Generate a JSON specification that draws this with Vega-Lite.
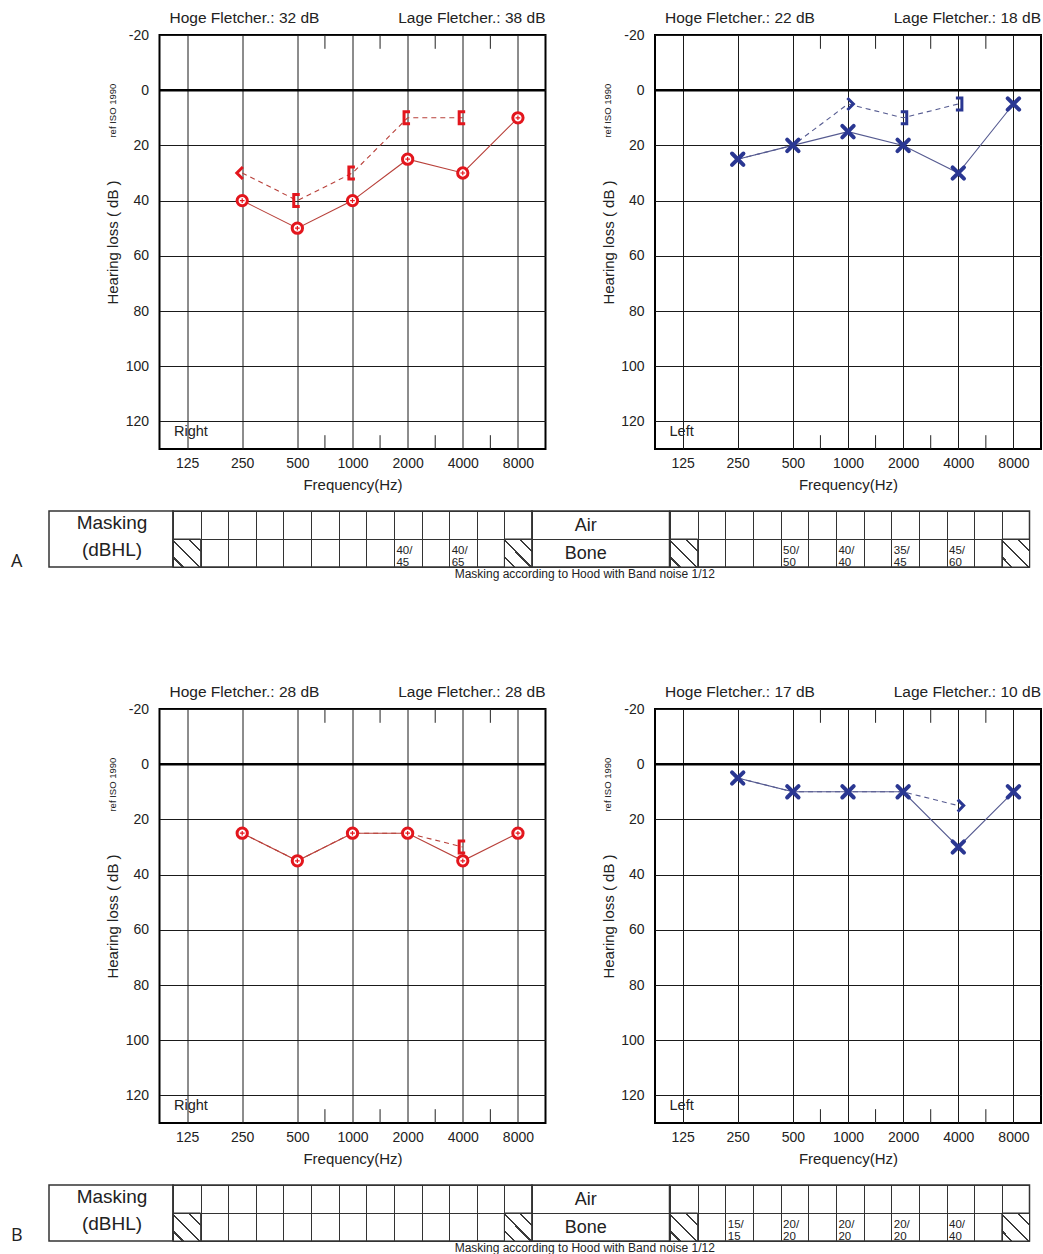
{
"$schema":"https://vega.github.io/schema/vega-lite/v6.json",
"background":"#ffffff",
"autosize":{"type":"pad"},
"padding":{"left":10,"top":10,"right":0,"bottom":0},
"config":{
 "font":"Liberation Sans",
 "axis":{"labelFontSize":14,"labelColor":"#222222","titleFontSize":15,"titleFontWeight":"normal","titleColor":"#222222","labelFlush":false,"labelOverlap":false,"ticks":false,"domain":false,"gridColor":"#1a1a1a","gridWidth":1,"gridOpacity":1},
 "axisX":{"labelPadding":7,"titlePadding":7},
 "axisY":{"labelPadding":11,"titlePadding":4.5},
 "text":{"color":"#222222"}
},
"datasets":{
 "ticks":[{"f":707.1},{"f":1414.2},{"f":2828.4},{"f":5656.9}],
 "AR":[{"s":"air","f":250,"db":40},{"s":"air","f":500,"db":50},{"s":"air","f":1000,"db":40},{"s":"air","f":2000,"db":25},{"s":"air","f":4000,"db":30},{"s":"air","f":8000,"db":10},{"s":"bone","f":250,"db":30,"sym":"lt"},{"s":"bone","f":500,"db":40,"sym":"lbr"},{"s":"bone","f":1000,"db":30,"sym":"lbr"},{"s":"bone","f":2000,"db":10,"sym":"lbr"},{"s":"bone","f":4000,"db":10,"sym":"lbr"}],
 "AL":[{"s":"air","f":250,"db":25},{"s":"air","f":500,"db":20},{"s":"air","f":1000,"db":15},{"s":"air","f":2000,"db":20},{"s":"air","f":4000,"db":30},{"s":"air","f":8000,"db":5},{"s":"bone","f":250,"db":25},{"s":"bone","f":500,"db":20},{"s":"bone","f":1000,"db":5,"sym":"gt"},{"s":"bone","f":2000,"db":10,"sym":"rbr"},{"s":"bone","f":4000,"db":5,"sym":"rbr"}],
 "BR":[{"s":"air","f":250,"db":25},{"s":"air","f":500,"db":35},{"s":"air","f":1000,"db":25},{"s":"air","f":2000,"db":25},{"s":"air","f":4000,"db":35},{"s":"air","f":8000,"db":25},{"s":"bone","f":250,"db":25},{"s":"bone","f":500,"db":35},{"s":"bone","f":1000,"db":25},{"s":"bone","f":2000,"db":25},{"s":"bone","f":4000,"db":30,"sym":"lbr"}],
 "BL":[{"s":"air","f":250,"db":5},{"s":"air","f":500,"db":10},{"s":"air","f":1000,"db":10},{"s":"air","f":2000,"db":10},{"s":"air","f":4000,"db":30},{"s":"air","f":8000,"db":10},{"s":"bone","f":250,"db":5},{"s":"bone","f":500,"db":10},{"s":"bone","f":1000,"db":10},{"s":"bone","f":2000,"db":10},{"s":"bone","f":4000,"db":15,"sym":"gt"}],
 "TAR":[{"col":1,"row":"Bone","h":true},{"col":13,"row":"Bone","h":true},{"col":9,"row":"Bone","v":"40/\n45"},{"col":11,"row":"Bone","v":"40/\n65"}],
 "TAL":[{"col":1,"row":"Bone","h":true},{"col":13,"row":"Bone","h":true},{"col":5,"row":"Bone","v":"50/\n50"},{"col":7,"row":"Bone","v":"40/\n40"},{"col":9,"row":"Bone","v":"35/\n45"},{"col":11,"row":"Bone","v":"45/\n60"}],
 "TBR":[{"col":1,"row":"Bone","h":true},{"col":13,"row":"Bone","h":true}],
 "TBL":[{"col":1,"row":"Bone","h":true},{"col":13,"row":"Bone","h":true},{"col":3,"row":"Bone","v":"15/\n15"},{"col":5,"row":"Bone","v":"20/\n20"},{"col":7,"row":"Bone","v":"20/\n20"},{"col":9,"row":"Bone","v":"20/\n20"},{"col":11,"row":"Bone","v":"40/\n40"}]
},
"spacing":103,
"vconcat":[
{"spacing":17,"vconcat":[
 {"spacing":109.5,"bounds":"flush","hconcat":[
  {"width":1,"height":414,"view":{"stroke":null},"data":{"values":[{"k":1}]},"mark":{"type":"point","opacity":0}},
  {"width":386,"height":414,"view":{"stroke":"#000000","strokeWidth":2},
   "layer":[
    {"data":{"name":"ticks"},"mark":{"type":"rule","color":"#222222","strokeWidth":1},"encoding":{"x":{"field":"f","type":"quantitative"},"y":{"datum":-20},"y2":{"datum":-15}}},
    {"data":{"name":"ticks"},"mark":{"type":"rule","color":"#222222","strokeWidth":1},"encoding":{"x":{"field":"f","type":"quantitative"},"y":{"datum":125},"y2":{"datum":130}}},
    {"data":{"values":[{"z":0}]},"mark":{"type":"rule","color":"#000000","strokeWidth":2.5},"encoding":{"y":{"field":"z","type":"quantitative"}}},
    {"data":{"name":"AR"},"transform":[{"filter":"datum.s == 'air'"}],"mark":{"type":"line","color":"#b8403a","strokeWidth":1.1},
     "encoding":{"x":{"field":"f","type":"quantitative","scale":{"type":"log","base":2,"domain":[88.388,11313.708],"nice":false},"axis":{"values":[125,250,500,1000,2000,4000,8000],"labelExpr":"'' + datum.value","grid":true,"title":"Frequency(Hz)"}},
                 "y":{"field":"db","type":"quantitative","scale":{"domain":[-20,130],"reverse":true,"nice":false,"zero":false},"axis":{"values":[-20,-10,0,10,20,30,40,50,60,70,80,90,100,110,120,130],"labelExpr":"datum.value % 20 == 0 && datum.value <= 120 ? '' + datum.value : ''","grid":true,"title":"Hearing loss ( dB )"}}}},
    {"data":{"name":"AR"},"transform":[{"filter":"datum.s == 'bone'"}],"mark":{"type":"line","color":"#b8403a","strokeWidth":1.1,"strokeDash":[5,4]},"encoding":{"x":{"field":"f","type":"quantitative"},"y":{"field":"db","type":"quantitative"}}},
    {"data":{"name":"AR"},"transform":[{"filter":"datum.s == 'bone' && datum.sym"}],"mark":{"type":"point","size":144,"filled":false,"stroke":"#e3161d","strokeWidth":3,"opacity":1},"encoding":{"x":{"field":"f","type":"quantitative"},"y":{"field":"db","type":"quantitative"},"shape":{"field":"sym","type":"nominal","scale":{"domain":["lt","gt","lbr","rbr"],"range":["M0.1,-1L-0.9,0L0.1,1","M-0.1,-1L0.9,0L-0.1,1","M0.4,-1L-0.6,-1L-0.6,1L0.4,1","M-0.4,-1L0.6,-1L0.6,1L-0.4,1"]},"legend":null}}},
    {"data":{"name":"AR"},"transform":[{"filter":"datum.s == 'air'"}],"mark":{"type":"point","shape":"circle","size":106,"filled":true,"fill":"#ffffff","stroke":"#e3161d","strokeWidth":3,"opacity":1},"encoding":{"x":{"field":"f","type":"quantitative"},"y":{"field":"db","type":"quantitative"}}},
    {"data":{"name":"AR"},"transform":[{"filter":"datum.s == 'air'"}],"mark":{"type":"point","shape":"M-0.45,0L0.45,0M0,-0.45L0,0.45","size":106,"filled":false,"stroke":"#e3161d","strokeWidth":1.2,"opacity":1},"encoding":{"x":{"field":"f","type":"quantitative"},"y":{"field":"db","type":"quantitative"}}},
    {"data":{"values":[{"t":"Hoge Fletcher.: 32 dB"}]},"mark":{"type":"text","align":"left","baseline":"alphabetic","fontSize":15.5,"dx":10,"dy":-12},"encoding":{"x":{"datum":88.388},"y":{"datum":-20},"text":{"field":"t"}}},
    {"data":{"values":[{"t":"Lage Fletcher.: 38 dB"}]},"mark":{"type":"text","align":"right","baseline":"alphabetic","fontSize":15.5,"dx":0,"dy":-12},"encoding":{"x":{"datum":11313.708},"y":{"datum":-20},"text":{"field":"t"}}},
    {"data":{"values":[{"t":"Right"}]},"mark":{"type":"text","align":"left","baseline":"middle","fontSize":14.5,"dx":14.5},"encoding":{"x":{"datum":88.388},"y":{"datum":124},"text":{"field":"t"}}},
    {"data":{"values":[{"t":"ref ISO 1990"}]},"mark":{"type":"text","angle":270,"align":"center","baseline":"middle","fontSize":9.5,"dy":-47},"encoding":{"x":{"datum":88.388},"y":{"datum":7.4},"text":{"field":"t"}}}
   ]},
  {"width":386,"height":414,"view":{"stroke":"#000000","strokeWidth":2},
   "layer":[
    {"data":{"name":"ticks"},"mark":{"type":"rule","color":"#222222","strokeWidth":1},"encoding":{"x":{"field":"f","type":"quantitative"},"y":{"datum":-20},"y2":{"datum":-15}}},
    {"data":{"name":"ticks"},"mark":{"type":"rule","color":"#222222","strokeWidth":1},"encoding":{"x":{"field":"f","type":"quantitative"},"y":{"datum":125},"y2":{"datum":130}}},
    {"data":{"values":[{"z":0}]},"mark":{"type":"rule","color":"#000000","strokeWidth":2.5},"encoding":{"y":{"field":"z","type":"quantitative"}}},
    {"data":{"name":"AL"},"transform":[{"filter":"datum.s == 'air'"}],"mark":{"type":"line","color":"#555a90","strokeWidth":1.1},
     "encoding":{"x":{"field":"f","type":"quantitative","scale":{"type":"log","base":2,"domain":[88.388,11313.708],"nice":false},"axis":{"values":[125,250,500,1000,2000,4000,8000],"labelExpr":"'' + datum.value","grid":true,"title":"Frequency(Hz)"}},
                 "y":{"field":"db","type":"quantitative","scale":{"domain":[-20,130],"reverse":true,"nice":false,"zero":false},"axis":{"values":[-20,-10,0,10,20,30,40,50,60,70,80,90,100,110,120,130],"labelExpr":"datum.value % 20 == 0 && datum.value <= 120 ? '' + datum.value : ''","grid":true,"title":"Hearing loss ( dB )"}}}},
    {"data":{"name":"AL"},"transform":[{"filter":"datum.s == 'bone'"}],"mark":{"type":"line","color":"#555a90","strokeWidth":1.1,"strokeDash":[5,4]},"encoding":{"x":{"field":"f","type":"quantitative"},"y":{"field":"db","type":"quantitative"}}},
    {"data":{"name":"AL"},"transform":[{"filter":"datum.s == 'bone' && datum.sym"}],"mark":{"type":"point","size":144,"filled":false,"stroke":"#2a3792","strokeWidth":3,"opacity":1},"encoding":{"x":{"field":"f","type":"quantitative"},"y":{"field":"db","type":"quantitative"},"shape":{"field":"sym","type":"nominal","scale":{"domain":["lt","gt","lbr","rbr"],"range":["M0.1,-1L-0.9,0L0.1,1","M-0.1,-1L0.9,0L-0.1,1","M0.4,-1L-0.6,-1L-0.6,1L0.4,1","M-0.4,-1L0.6,-1L0.6,1L-0.4,1"]},"legend":null}}},
    {"data":{"name":"AL"},"transform":[{"filter":"datum.s == 'air'"}],"mark":{"type":"point","shape":"M-1,-1L1,1M1,-1L-1,1","size":130,"filled":false,"stroke":"#2a3792","strokeWidth":4,"strokeCap":"round","opacity":1},"encoding":{"x":{"field":"f","type":"quantitative"},"y":{"field":"db","type":"quantitative"}}},
    {"data":{"values":[{"t":"Hoge Fletcher.: 22 dB"}]},"mark":{"type":"text","align":"left","baseline":"alphabetic","fontSize":15.5,"dx":10,"dy":-12},"encoding":{"x":{"datum":88.388},"y":{"datum":-20},"text":{"field":"t"}}},
    {"data":{"values":[{"t":"Lage Fletcher.: 18 dB"}]},"mark":{"type":"text","align":"right","baseline":"alphabetic","fontSize":15.5,"dx":0,"dy":-12},"encoding":{"x":{"datum":11313.708},"y":{"datum":-20},"text":{"field":"t"}}},
    {"data":{"values":[{"t":"Left"}]},"mark":{"type":"text","align":"left","baseline":"middle","fontSize":14.5,"dx":14.5},"encoding":{"x":{"datum":88.388},"y":{"datum":124},"text":{"field":"t"}}},
    {"data":{"values":[{"t":"ref ISO 1990"}]},"mark":{"type":"text","angle":270,"align":"center","baseline":"middle","fontSize":9.5,"dy":-47},"encoding":{"x":{"datum":88.388},"y":{"datum":7.4},"text":{"field":"t"}}}
   ]}
 ]},
 {"spacing":0,"bounds":"flush","hconcat":[
  {"width":124,"height":56,"view":{"stroke":"#333333","strokeWidth":1.5},
   "layer":[
    {"data":{"values":[{"t":"Masking\n(dBHL)"}]},"mark":{"type":"text","fontSize":19,"align":"center","baseline":"alphabetic","dx":1,"dy":-10,"lineBreak":"\n","lineHeight":27},"encoding":{"text":{"field":"t"}}},
    {"data":{"values":[{"t":"A"}]},"mark":{"type":"text","font":"Open Sans","fontSize":18,"align":"center","baseline":"alphabetic","dx":-94.3,"dy":28.4},"encoding":{"text":{"field":"t"}}}
   ]},
  {"width":359,"height":56,"view":{"stroke":"#333333","strokeWidth":1.5},
   "data":{"name":"TAR"},
   "encoding":{"x":{"field":"col","type":"ordinal","scale":{"domain":[1,2,3,4,5,6,7,8,9,10,11,12,13],"paddingInner":0,"paddingOuter":0},"axis":{"grid":true,"tickBand":"extent","labels":false,"ticks":false,"domain":false,"title":null,"gridColor":"#333333","gridWidth":1}},
               "y":{"field":"row","type":"ordinal","scale":{"domain":["Air","Bone"],"paddingInner":0,"paddingOuter":0},"axis":{"grid":true,"tickBand":"extent","labels":false,"ticks":false,"domain":false,"title":null,"gridColor":"#333333","gridWidth":1}}},
   "layer":[
    {"transform":[{"filter":"datum.h"}],"mark":{"type":"rect","stroke":"#333333","strokeWidth":1,"fill":{"gradient":"linear","x1":1,"y1":0,"x2":0,"y2":1,"stops":[{"offset":0,"color":"#ffffff"},{"offset":0.2,"color":"#ffffff"},{"offset":0.2,"color":"#3a3a3a"},{"offset":0.24,"color":"#3a3a3a"},{"offset":0.24,"color":"#ffffff"},{"offset":0.5,"color":"#ffffff"},{"offset":0.5,"color":"#3a3a3a"},{"offset":0.54,"color":"#3a3a3a"},{"offset":0.54,"color":"#ffffff"},{"offset":0.8,"color":"#ffffff"},{"offset":0.8,"color":"#3a3a3a"},{"offset":0.84,"color":"#3a3a3a"},{"offset":0.84,"color":"#ffffff"},{"offset":1,"color":"#ffffff"}]}}},
    {"transform":[{"filter":"datum.v"}],"mark":{"type":"text","align":"left","baseline":"alphabetic","fontSize":11.5,"lineBreak":"\n","lineHeight":11.5,"dx":2.5,"dy":1},"encoding":{"x":{"field":"col","type":"ordinal","bandPosition":0},"text":{"field":"v"}}}
   ]},
  {"width":137.5,"height":56,"view":{"stroke":"#333333","strokeWidth":1.5},
   "layer":[
    {"data":{"values":[{"row":"Air"},{"row":"Bone"}]},"mark":{"type":"text","fontSize":18,"align":"center","baseline":"alphabetic","dx":-15,"dy":6},
     "encoding":{"y":{"field":"row","type":"ordinal","scale":{"domain":["Air","Bone"],"paddingInner":0,"paddingOuter":0},"axis":{"grid":true,"tickBand":"extent","labels":false,"ticks":false,"domain":false,"title":null,"gridColor":"#333333","gridWidth":1}},"text":{"field":"row"}}},
    {"data":{"values":[{"t":"Masking according to Hood with Band noise 1/12"}]},"mark":{"type":"text","fontSize":12,"align":"center","baseline":"middle","dx":-16,"dy":35},"encoding":{"text":{"field":"t"}}}
   ]},
  {"width":359.5,"height":56,"view":{"stroke":"#333333","strokeWidth":1.5},
   "data":{"name":"TAL"},
   "encoding":{"x":{"field":"col","type":"ordinal","scale":{"domain":[1,2,3,4,5,6,7,8,9,10,11,12,13],"paddingInner":0,"paddingOuter":0},"axis":{"grid":true,"tickBand":"extent","labels":false,"ticks":false,"domain":false,"title":null,"gridColor":"#333333","gridWidth":1}},
               "y":{"field":"row","type":"ordinal","scale":{"domain":["Air","Bone"],"paddingInner":0,"paddingOuter":0},"axis":{"grid":true,"tickBand":"extent","labels":false,"ticks":false,"domain":false,"title":null,"gridColor":"#333333","gridWidth":1}}},
   "layer":[
    {"transform":[{"filter":"datum.h"}],"mark":{"type":"rect","stroke":"#333333","strokeWidth":1,"fill":{"gradient":"linear","x1":1,"y1":0,"x2":0,"y2":1,"stops":[{"offset":0,"color":"#ffffff"},{"offset":0.2,"color":"#ffffff"},{"offset":0.2,"color":"#3a3a3a"},{"offset":0.24,"color":"#3a3a3a"},{"offset":0.24,"color":"#ffffff"},{"offset":0.5,"color":"#ffffff"},{"offset":0.5,"color":"#3a3a3a"},{"offset":0.54,"color":"#3a3a3a"},{"offset":0.54,"color":"#ffffff"},{"offset":0.8,"color":"#ffffff"},{"offset":0.8,"color":"#3a3a3a"},{"offset":0.84,"color":"#3a3a3a"},{"offset":0.84,"color":"#ffffff"},{"offset":1,"color":"#ffffff"}]}}},
    {"transform":[{"filter":"datum.v"}],"mark":{"type":"text","align":"left","baseline":"alphabetic","fontSize":11.5,"lineBreak":"\n","lineHeight":11.5,"dx":2.5,"dy":1},"encoding":{"x":{"field":"col","type":"ordinal","bandPosition":0},"text":{"field":"v"}}}
   ]}
 ]}
]},
{"spacing":17,"vconcat":[
 {"spacing":109.5,"bounds":"flush","hconcat":[
  {"width":1,"height":414,"view":{"stroke":null},"data":{"values":[{"k":1}]},"mark":{"type":"point","opacity":0}},
  {"width":386,"height":414,"view":{"stroke":"#000000","strokeWidth":2},
   "layer":[
    {"data":{"name":"ticks"},"mark":{"type":"rule","color":"#222222","strokeWidth":1},"encoding":{"x":{"field":"f","type":"quantitative"},"y":{"datum":-20},"y2":{"datum":-15}}},
    {"data":{"name":"ticks"},"mark":{"type":"rule","color":"#222222","strokeWidth":1},"encoding":{"x":{"field":"f","type":"quantitative"},"y":{"datum":125},"y2":{"datum":130}}},
    {"data":{"values":[{"z":0}]},"mark":{"type":"rule","color":"#000000","strokeWidth":2.5},"encoding":{"y":{"field":"z","type":"quantitative"}}},
    {"data":{"name":"BR"},"transform":[{"filter":"datum.s == 'air'"}],"mark":{"type":"line","color":"#b8403a","strokeWidth":1.1},
     "encoding":{"x":{"field":"f","type":"quantitative","scale":{"type":"log","base":2,"domain":[88.388,11313.708],"nice":false},"axis":{"values":[125,250,500,1000,2000,4000,8000],"labelExpr":"'' + datum.value","grid":true,"title":"Frequency(Hz)"}},
                 "y":{"field":"db","type":"quantitative","scale":{"domain":[-20,130],"reverse":true,"nice":false,"zero":false},"axis":{"values":[-20,-10,0,10,20,30,40,50,60,70,80,90,100,110,120,130],"labelExpr":"datum.value % 20 == 0 && datum.value <= 120 ? '' + datum.value : ''","grid":true,"title":"Hearing loss ( dB )"}}}},
    {"data":{"name":"BR"},"transform":[{"filter":"datum.s == 'bone'"}],"mark":{"type":"line","color":"#b8403a","strokeWidth":1.1,"strokeDash":[5,4]},"encoding":{"x":{"field":"f","type":"quantitative"},"y":{"field":"db","type":"quantitative"}}},
    {"data":{"name":"BR"},"transform":[{"filter":"datum.s == 'bone' && datum.sym"}],"mark":{"type":"point","size":144,"filled":false,"stroke":"#e3161d","strokeWidth":3,"opacity":1},"encoding":{"x":{"field":"f","type":"quantitative"},"y":{"field":"db","type":"quantitative"},"shape":{"field":"sym","type":"nominal","scale":{"domain":["lt","gt","lbr","rbr"],"range":["M0.1,-1L-0.9,0L0.1,1","M-0.1,-1L0.9,0L-0.1,1","M0.4,-1L-0.6,-1L-0.6,1L0.4,1","M-0.4,-1L0.6,-1L0.6,1L-0.4,1"]},"legend":null}}},
    {"data":{"name":"BR"},"transform":[{"filter":"datum.s == 'air'"}],"mark":{"type":"point","shape":"circle","size":106,"filled":true,"fill":"#ffffff","stroke":"#e3161d","strokeWidth":3,"opacity":1},"encoding":{"x":{"field":"f","type":"quantitative"},"y":{"field":"db","type":"quantitative"}}},
    {"data":{"name":"BR"},"transform":[{"filter":"datum.s == 'air'"}],"mark":{"type":"point","shape":"M-0.45,0L0.45,0M0,-0.45L0,0.45","size":106,"filled":false,"stroke":"#e3161d","strokeWidth":1.2,"opacity":1},"encoding":{"x":{"field":"f","type":"quantitative"},"y":{"field":"db","type":"quantitative"}}},
    {"data":{"values":[{"t":"Hoge Fletcher.: 28 dB"}]},"mark":{"type":"text","align":"left","baseline":"alphabetic","fontSize":15.5,"dx":10,"dy":-12},"encoding":{"x":{"datum":88.388},"y":{"datum":-20},"text":{"field":"t"}}},
    {"data":{"values":[{"t":"Lage Fletcher.: 28 dB"}]},"mark":{"type":"text","align":"right","baseline":"alphabetic","fontSize":15.5,"dx":0,"dy":-12},"encoding":{"x":{"datum":11313.708},"y":{"datum":-20},"text":{"field":"t"}}},
    {"data":{"values":[{"t":"Right"}]},"mark":{"type":"text","align":"left","baseline":"middle","fontSize":14.5,"dx":14.5},"encoding":{"x":{"datum":88.388},"y":{"datum":124},"text":{"field":"t"}}},
    {"data":{"values":[{"t":"ref ISO 1990"}]},"mark":{"type":"text","angle":270,"align":"center","baseline":"middle","fontSize":9.5,"dy":-47},"encoding":{"x":{"datum":88.388},"y":{"datum":7.4},"text":{"field":"t"}}}
   ]},
  {"width":386,"height":414,"view":{"stroke":"#000000","strokeWidth":2},
   "layer":[
    {"data":{"name":"ticks"},"mark":{"type":"rule","color":"#222222","strokeWidth":1},"encoding":{"x":{"field":"f","type":"quantitative"},"y":{"datum":-20},"y2":{"datum":-15}}},
    {"data":{"name":"ticks"},"mark":{"type":"rule","color":"#222222","strokeWidth":1},"encoding":{"x":{"field":"f","type":"quantitative"},"y":{"datum":125},"y2":{"datum":130}}},
    {"data":{"values":[{"z":0}]},"mark":{"type":"rule","color":"#000000","strokeWidth":2.5},"encoding":{"y":{"field":"z","type":"quantitative"}}},
    {"data":{"name":"BL"},"transform":[{"filter":"datum.s == 'air'"}],"mark":{"type":"line","color":"#555a90","strokeWidth":1.1},
     "encoding":{"x":{"field":"f","type":"quantitative","scale":{"type":"log","base":2,"domain":[88.388,11313.708],"nice":false},"axis":{"values":[125,250,500,1000,2000,4000,8000],"labelExpr":"'' + datum.value","grid":true,"title":"Frequency(Hz)"}},
                 "y":{"field":"db","type":"quantitative","scale":{"domain":[-20,130],"reverse":true,"nice":false,"zero":false},"axis":{"values":[-20,-10,0,10,20,30,40,50,60,70,80,90,100,110,120,130],"labelExpr":"datum.value % 20 == 0 && datum.value <= 120 ? '' + datum.value : ''","grid":true,"title":"Hearing loss ( dB )"}}}},
    {"data":{"name":"BL"},"transform":[{"filter":"datum.s == 'bone'"}],"mark":{"type":"line","color":"#555a90","strokeWidth":1.1,"strokeDash":[5,4]},"encoding":{"x":{"field":"f","type":"quantitative"},"y":{"field":"db","type":"quantitative"}}},
    {"data":{"name":"BL"},"transform":[{"filter":"datum.s == 'bone' && datum.sym"}],"mark":{"type":"point","size":144,"filled":false,"stroke":"#2a3792","strokeWidth":3,"opacity":1},"encoding":{"x":{"field":"f","type":"quantitative"},"y":{"field":"db","type":"quantitative"},"shape":{"field":"sym","type":"nominal","scale":{"domain":["lt","gt","lbr","rbr"],"range":["M0.1,-1L-0.9,0L0.1,1","M-0.1,-1L0.9,0L-0.1,1","M0.4,-1L-0.6,-1L-0.6,1L0.4,1","M-0.4,-1L0.6,-1L0.6,1L-0.4,1"]},"legend":null}}},
    {"data":{"name":"BL"},"transform":[{"filter":"datum.s == 'air'"}],"mark":{"type":"point","shape":"M-1,-1L1,1M1,-1L-1,1","size":130,"filled":false,"stroke":"#2a3792","strokeWidth":4,"strokeCap":"round","opacity":1},"encoding":{"x":{"field":"f","type":"quantitative"},"y":{"field":"db","type":"quantitative"}}},
    {"data":{"values":[{"t":"Hoge Fletcher.: 17 dB"}]},"mark":{"type":"text","align":"left","baseline":"alphabetic","fontSize":15.5,"dx":10,"dy":-12},"encoding":{"x":{"datum":88.388},"y":{"datum":-20},"text":{"field":"t"}}},
    {"data":{"values":[{"t":"Lage Fletcher.: 10 dB"}]},"mark":{"type":"text","align":"right","baseline":"alphabetic","fontSize":15.5,"dx":0,"dy":-12},"encoding":{"x":{"datum":11313.708},"y":{"datum":-20},"text":{"field":"t"}}},
    {"data":{"values":[{"t":"Left"}]},"mark":{"type":"text","align":"left","baseline":"middle","fontSize":14.5,"dx":14.5},"encoding":{"x":{"datum":88.388},"y":{"datum":124},"text":{"field":"t"}}},
    {"data":{"values":[{"t":"ref ISO 1990"}]},"mark":{"type":"text","angle":270,"align":"center","baseline":"middle","fontSize":9.5,"dy":-47},"encoding":{"x":{"datum":88.388},"y":{"datum":7.4},"text":{"field":"t"}}}
   ]}
 ]},
 {"spacing":0,"bounds":"flush","hconcat":[
  {"width":124,"height":56,"view":{"stroke":"#333333","strokeWidth":1.5},
   "layer":[
    {"data":{"values":[{"t":"Masking\n(dBHL)"}]},"mark":{"type":"text","fontSize":19,"align":"center","baseline":"alphabetic","dx":1,"dy":-10,"lineBreak":"\n","lineHeight":27},"encoding":{"text":{"field":"t"}}},
    {"data":{"values":[{"t":"B"}]},"mark":{"type":"text","font":"Open Sans","fontSize":18,"align":"center","baseline":"alphabetic","dx":-94.3,"dy":28.4},"encoding":{"text":{"field":"t"}}}
   ]},
  {"width":359,"height":56,"view":{"stroke":"#333333","strokeWidth":1.5},
   "data":{"name":"TBR"},
   "encoding":{"x":{"field":"col","type":"ordinal","scale":{"domain":[1,2,3,4,5,6,7,8,9,10,11,12,13],"paddingInner":0,"paddingOuter":0},"axis":{"grid":true,"tickBand":"extent","labels":false,"ticks":false,"domain":false,"title":null,"gridColor":"#333333","gridWidth":1}},
               "y":{"field":"row","type":"ordinal","scale":{"domain":["Air","Bone"],"paddingInner":0,"paddingOuter":0},"axis":{"grid":true,"tickBand":"extent","labels":false,"ticks":false,"domain":false,"title":null,"gridColor":"#333333","gridWidth":1}}},
   "layer":[
    {"transform":[{"filter":"datum.h"}],"mark":{"type":"rect","stroke":"#333333","strokeWidth":1,"fill":{"gradient":"linear","x1":1,"y1":0,"x2":0,"y2":1,"stops":[{"offset":0,"color":"#ffffff"},{"offset":0.2,"color":"#ffffff"},{"offset":0.2,"color":"#3a3a3a"},{"offset":0.24,"color":"#3a3a3a"},{"offset":0.24,"color":"#ffffff"},{"offset":0.5,"color":"#ffffff"},{"offset":0.5,"color":"#3a3a3a"},{"offset":0.54,"color":"#3a3a3a"},{"offset":0.54,"color":"#ffffff"},{"offset":0.8,"color":"#ffffff"},{"offset":0.8,"color":"#3a3a3a"},{"offset":0.84,"color":"#3a3a3a"},{"offset":0.84,"color":"#ffffff"},{"offset":1,"color":"#ffffff"}]}}},
    {"transform":[{"filter":"datum.v"}],"mark":{"type":"text","align":"left","baseline":"alphabetic","fontSize":11.5,"lineBreak":"\n","lineHeight":11.5,"dx":2.5,"dy":1},"encoding":{"x":{"field":"col","type":"ordinal","bandPosition":0},"text":{"field":"v"}}}
   ]},
  {"width":137.5,"height":56,"view":{"stroke":"#333333","strokeWidth":1.5},
   "layer":[
    {"data":{"values":[{"row":"Air"},{"row":"Bone"}]},"mark":{"type":"text","fontSize":18,"align":"center","baseline":"alphabetic","dx":-15,"dy":6},
     "encoding":{"y":{"field":"row","type":"ordinal","scale":{"domain":["Air","Bone"],"paddingInner":0,"paddingOuter":0},"axis":{"grid":true,"tickBand":"extent","labels":false,"ticks":false,"domain":false,"title":null,"gridColor":"#333333","gridWidth":1}},"text":{"field":"row"}}},
    {"data":{"values":[{"t":"Masking according to Hood with Band noise 1/12"}]},"mark":{"type":"text","fontSize":12,"align":"center","baseline":"middle","dx":-16,"dy":35},"encoding":{"text":{"field":"t"}}}
   ]},
  {"width":359.5,"height":56,"view":{"stroke":"#333333","strokeWidth":1.5},
   "data":{"name":"TBL"},
   "encoding":{"x":{"field":"col","type":"ordinal","scale":{"domain":[1,2,3,4,5,6,7,8,9,10,11,12,13],"paddingInner":0,"paddingOuter":0},"axis":{"grid":true,"tickBand":"extent","labels":false,"ticks":false,"domain":false,"title":null,"gridColor":"#333333","gridWidth":1}},
               "y":{"field":"row","type":"ordinal","scale":{"domain":["Air","Bone"],"paddingInner":0,"paddingOuter":0},"axis":{"grid":true,"tickBand":"extent","labels":false,"ticks":false,"domain":false,"title":null,"gridColor":"#333333","gridWidth":1}}},
   "layer":[
    {"transform":[{"filter":"datum.h"}],"mark":{"type":"rect","stroke":"#333333","strokeWidth":1,"fill":{"gradient":"linear","x1":1,"y1":0,"x2":0,"y2":1,"stops":[{"offset":0,"color":"#ffffff"},{"offset":0.2,"color":"#ffffff"},{"offset":0.2,"color":"#3a3a3a"},{"offset":0.24,"color":"#3a3a3a"},{"offset":0.24,"color":"#ffffff"},{"offset":0.5,"color":"#ffffff"},{"offset":0.5,"color":"#3a3a3a"},{"offset":0.54,"color":"#3a3a3a"},{"offset":0.54,"color":"#ffffff"},{"offset":0.8,"color":"#ffffff"},{"offset":0.8,"color":"#3a3a3a"},{"offset":0.84,"color":"#3a3a3a"},{"offset":0.84,"color":"#ffffff"},{"offset":1,"color":"#ffffff"}]}}},
    {"transform":[{"filter":"datum.v"}],"mark":{"type":"text","align":"left","baseline":"alphabetic","fontSize":11.5,"lineBreak":"\n","lineHeight":11.5,"dx":2.5,"dy":1},"encoding":{"x":{"field":"col","type":"ordinal","bandPosition":0},"text":{"field":"v"}}}
   ]}
 ]}
]}
]
}
